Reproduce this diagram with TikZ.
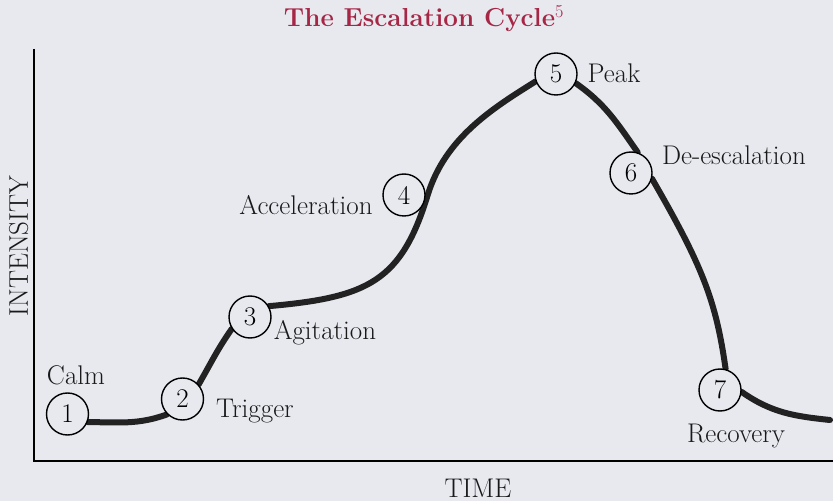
\documentclass[tikz,border=0pt]{standalone}
\usepackage{fontspec}
\usepackage{tikz}
\usetikzlibrary{positioning, backgrounds}

\definecolor{paper}{RGB}{231,233,239}
\definecolor{titlered}{RGB}{166,38,70}
\definecolor{ink}{RGB}{34,34,34}

\begin{document}
\begin{tikzpicture}[x=1pt, y=1pt,
    stage/.style={circle, draw=black, line width=1.4pt, fill=paper,
        minimum size=42pt, inner sep=0pt, font=\fontsize{27}{31}\selectfont},
    stagelabel/.style={anchor=base, inner sep=0pt,
        font=\fontsize{27}{31}\selectfont, text=black!90},
    curve/.style={ink, line width=6pt, line cap=round, line join=round},
    axis/.style={black, line width=1.3pt}]

    \useasboundingbox (0,0) rectangle (833,501);

    % axes
    \coordinate (ytop) at (34,452);
    \coordinate (origin) at (34,40);
    \coordinate (xend) at (833,40);
    \draw[axis] (ytop) -- (origin) -- (xend);

    \node[stagelabel, rotate=90] (intensity) at (28,255) {INTENSITY};
    \node[stagelabel] (time) at (478,4) {TIME};

    % title
    \node[anchor=base, inner sep=0pt, text=titlered,
        font=\fontsize{26}{30}\selectfont\bfseries] (title) at (424,474)
        {The Escalation Cycle{\mdseries\textsuperscript{5}}};

    % stages of the cycle
    \foreach \i/\x/\y/\dx/\dy/\name in {
        1/67.5/87/8.5/29/Calm,
        2/182.5/102/72.5/-19/Trigger,
        3/250/184/75/-23/Agitation,
        4/404/306/-98/-20/Acceleration,
        5/556/427/58/-9/Peak,
        6/631/328/103/8/De-escalation,
        7/720/111/16/-52/Recovery}{
        \node[stage] (c\i) at (\x,\y) {\i};
        \node[stagelabel] (l\i) at ([shift={(\dx,\dy)}]c\i) {\name};
    }

    \coordinate (tail) at (830,81);

    % curve behind the circles
    \begin{pgfonlayer}{background}
        \fill[paper] (0,0) rectangle (833,501);
        \draw[curve] (c1.-22) to[out=0, in=200] (c2.225)
            (c2.42) to[out=60, in=235] (c3.213)
            (c3.30) .. controls +(5:100) and +(253:90) .. ([xshift=2]c4.east)
                .. controls +(73:60) and +(212:50) .. (c5.200)
            (c5.-25) to[out=-35, in=125] (c6.72)
            (c6.-15) .. controls +(-60:100) and +(98:70) .. (c7.75)
            (c7.-5) to[out=-35, in=174] (tail);
    \end{pgfonlayer}
\end{tikzpicture}
\end{document}
